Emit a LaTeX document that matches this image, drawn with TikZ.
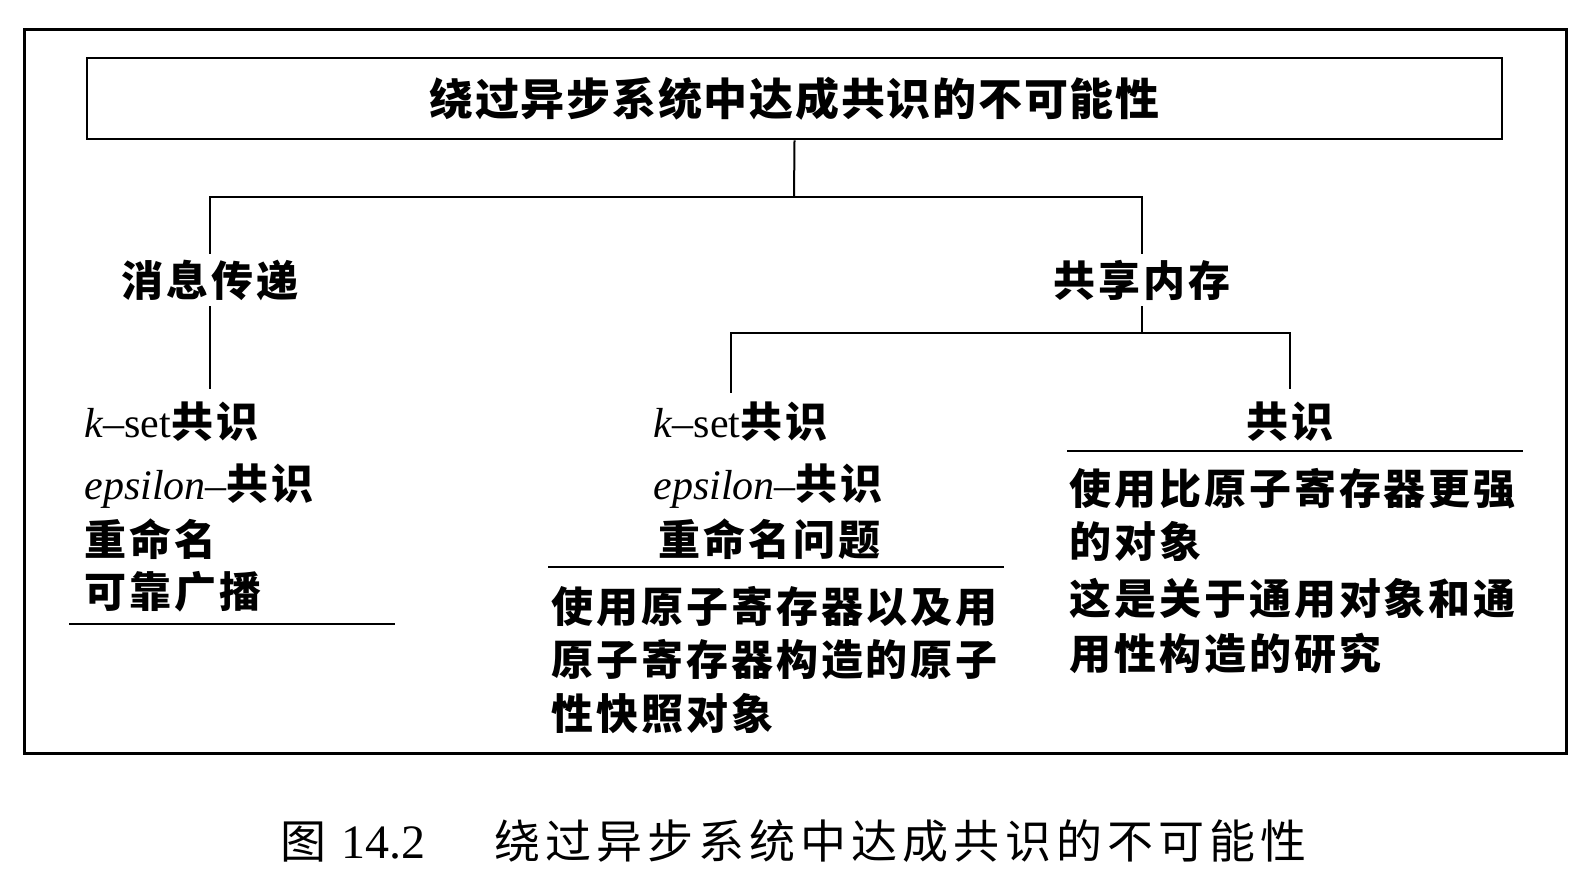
\documentclass[tikz,border=0pt]{standalone}
\usepackage{fontspec}
\setmainfont{Liberation Serif}
\newfontfamily\cjkbody[LetterSpace=7]{Noto Sans CJK SC}
\newfontfamily\cjktitle[LetterSpace=4]{Noto Sans CJK SC}
\newfontfamily\cjkcap[LetterSpace=11]{Noto Sans CJK SC}
\newcommand\zh[1]{{\cjkbody\bfseries #1}}
\begin{document}
\begin{tikzpicture}[x=0.5pt,y=-0.5pt,
  bodyfont/.style={font=\fontsize{21}{25}\selectfont},
  line/.style={inner sep=0pt, anchor=base west, bodyfont},
  head/.style={anchor=base west, bodyfont, inner xsep=0pt, inner ysep=8pt, text height=16pt, text depth=0pt},
  branch/.style={anchor=center, bodyfont, inner xsep=0pt, inner ysep=0pt, minimum height=26pt, text height=16pt, text depth=0pt},
  conn/.style={line width=1pt},
  rule/.style={line width=1.4pt},
  frame/.style={line width=1.5pt}]
\useasboundingbox (0,0) rectangle (1588,874);
\draw[frame] (24,29.5) rectangle (1566,753);

\node[draw, line width=1.4pt, minimum width=707.5pt, minimum height=40.5pt, inner sep=0pt,
      text height=16.7pt, text depth=0pt, font=\fontsize{22}{26}\selectfont]
  (title) at (794.5,98.5) {\cjktitle\bfseries 绕过异步系统中达成共识的不可能性};

\node[branch] (msg) at (210,280) {\zh{消息传递}};
\node[branch] (shm) at (1142,280) {\zh{共享内存}};

\coordinate (j0) at (794,197);
\draw[conn] (title.south) -- (j0);
\draw[conn] (j0) -| (msg.north);
\draw[conn] (j0) -| (shm.north);

% left column
\node[head] (kL) at (84,437) {\textit{k}–set\zh{共识}};
\node[line] (eL) at (84,499) {\textit{epsilon}–\zh{共识}};
\node[line] (rL) at (84,555) {\zh{重命名}};
\node[line] (bL) at (84,607) {\zh{可靠广播}};
\draw[conn] (msg.south) -- (msg.south |- kL.north);
\draw[rule] (69,624) -- (395,624);

% middle column
\node[head] (kM) at (653,437) {\textit{k}–set\zh{共识}};
\node[line] (eM) at (653,499) {\textit{epsilon}–\zh{共识}};
\node[line] (rM) at (658,555) {\zh{重命名问题}};
\draw[rule] (548,567) -- (1004,567);
\node[line] (m1) at (551,622) {\zh{使用原子寄存器以及用}};
\node[line] (m2) at (551,675) {\zh{原子寄存器构造的原子}};
\node[line] (m3) at (551,729) {\zh{性快照对象}};

% right column
\node[head, anchor=base] (cons) at (1290,437) {\zh{共识}};
\draw[rule] (1067,451) -- (1523,451);
\node[line] (r1) at (1069,504) {\zh{使用比原子寄存器更强}};
\node[line] (r2) at (1069,557) {\zh{的对象}};
\node[line] (r3) at (1069,614) {\zh{这是关于通用对象和通}};
\node[line] (r4) at (1069,669) {\zh{用性构造的研究}};

\coordinate (j1) at (1142,333);
\coordinate (m0) at (731,393);
\draw[conn] (shm.south) -- (j1);
\draw[conn] (j1) -| (m0);
\draw[conn] (j1) -| (cons.north);

% caption
\node[anchor=base west, inner sep=0pt, font=\fontsize{23}{27}\selectfont] (cap) at (280,858)
  {\makebox[30.5pt][l]{\cjkcap 图}\makebox[76.5pt][l]{\fontsize{24}{27}\selectfont 14.2}{\cjkcap 绕过异步系统中达成共识的不可能性}};
\end{tikzpicture}
\end{document}
